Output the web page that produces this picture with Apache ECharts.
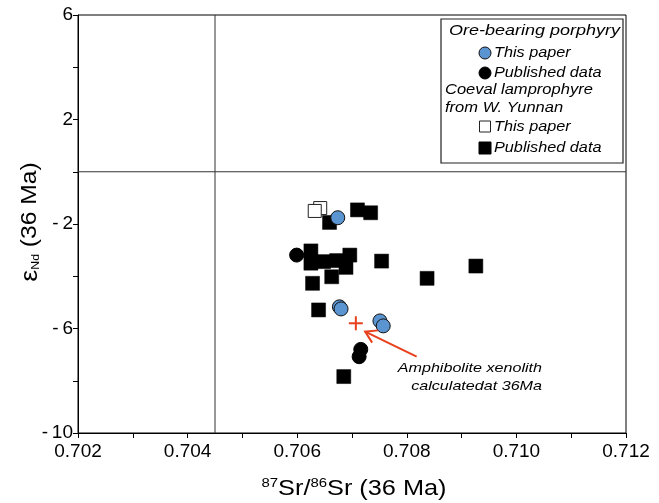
<!DOCTYPE html>
<html>
<head>
<meta charset="utf-8">
<script src="https://cdn.jsdelivr.net/npm/echarts@6/dist/echarts.min.js"></script>
<style>
html,body{margin:0;padding:0;background:#fff;}
#chart{width:659px;height:503px;}
</style>
</head>
<body>
<div id="chart"></div>
<script>
// ---- data (87Sr/86Sr, εNd) ----
var porphyryThisPaper = [[0.70674,-1.76],[0.70677,-5.17],[0.70680,-5.25],[0.70751,-5.71],[0.70757,-5.90]];
var porphyryPublished = [[0.70599,-3.19],[0.70716,-6.80],[0.70713,-7.08]];
var lamprophyreThisPaper = [[0.70642,-1.39],[0.70632,-1.50]];
var lamprophyrePublished = [[0.70659,-1.94],[0.70710,-1.46],[0.70734,-1.57],[0.70625,-3.03],[0.70625,-3.50],
  [0.70648,-3.44],[0.70672,-3.40],[0.70696,-3.19],[0.70689,-3.66],[0.70663,-4.02],[0.70628,-4.27],
  [0.70754,-3.42],[0.70837,-4.08],[0.70926,-3.61],[0.70639,-5.29],[0.70685,-7.84]];
var amphibolite = [[0.70707,-5.80]];
var arrowFromTo = [[0.70818,-7.08],[0.70724,-6.12]];
var refVertical = [[0.7045,-10],[0.7045,6]];
var refHorizontal = [[0.702,0],[0.712,0]];
var xTicks = {min:0.702, max:0.712, interval:0.002};
var yTicks = {min:-10, max:6, interval:4};

var FONT = 'Liberation Sans, Arial, sans-serif';
var RED = '#e8401c', BLUE = '#5b95d1';
var chart = echarts.init(document.getElementById('chart'));

function legendText(txt, x, y, size, sx){
  return {type:'text', x:x, y:y, scaleX:sx, z:12,
    style:{text:txt, font:'italic '+size+'px '+FONT, fill:'#000', verticalAlign:'middle'}};
}

var option = {
  animation:false,
  backgroundColor:'#fff',
  grid:{left:78, right:33, top:15, bottom:70, show:true, borderColor:'#000', borderWidth:1, backgroundColor:'transparent'},
  xAxis:{type:'value', min:xTicks.min, max:xTicks.max, interval:xTicks.interval,
    axisLine:{onZero:false, lineStyle:{color:'#000', width:1}},
    axisTick:{show:true, inside:false, length:5, lineStyle:{color:'#000'}},
    minorTick:{show:true, splitNumber:2, length:5, lineStyle:{color:'#000'}},
    splitLine:{show:false},
    axisLabel:{fontFamily:FONT, fontSize:19, color:'#000', margin:9,
      formatter:function(v){return v.toFixed(3);}}
  },
  yAxis:{type:'value', min:yTicks.min, max:yTicks.max, interval:yTicks.interval,
    axisLine:{onZero:false, lineStyle:{color:'#000', width:1}},
    axisTick:{show:true, inside:false, length:5, lineStyle:{color:'#000'}},
    minorTick:{show:true, splitNumber:2, length:5, lineStyle:{color:'#000'}},
    splitLine:{show:false},
    axisLabel:{fontFamily:FONT, fontSize:19, color:'#000', margin:5,
      formatter:function(v){return String(v).replace('-','-\u2009');}}
  },
  series:[
    {type:'line', data:refVertical, symbol:'none', silent:true, z:1, lineStyle:{color:'#333', width:1}},
    {type:'line', data:refHorizontal, symbol:'none', silent:true, z:1, lineStyle:{color:'#333', width:1}},
    {type:'scatter', data:porphyryPublished, symbol:'circle', symbolSize:14, z:2,
      itemStyle:{color:'#000', borderColor:'#000', borderWidth:1, opacity:1}},
    {type:'scatter', data:lamprophyreThisPaper, symbol:'rect', symbolSize:13, z:3,
      itemStyle:{color:'#fff', borderColor:'#222', borderWidth:1, opacity:1}},
    {type:'scatter', data:lamprophyrePublished, symbol:'rect', symbolSize:14, z:4,
      itemStyle:{color:'#000', borderColor:'#000', borderWidth:0.5, opacity:1}},
    {type:'scatter', data:porphyryThisPaper, symbol:'circle', symbolSize:14, z:5,
      itemStyle:{color:BLUE, borderColor:'#111', borderWidth:1, opacity:1}},
    {type:'custom', data:amphibolite, z:6, silent:true,
      renderItem:function(params, api){
        var p = api.coord([api.value(0), api.value(1)]);
        var h = 7;
        return {type:'group', children:[
          {type:'line', shape:{x1:p[0]-h, y1:p[1], x2:p[0]+h, y2:p[1]}, style:{stroke:RED, lineWidth:2}},
          {type:'line', shape:{x1:p[0], y1:p[1]-h, x2:p[0], y2:p[1]+h}, style:{stroke:RED, lineWidth:2}}
        ]};
      }},
    {type:'custom', data:[arrowFromTo[0].concat(arrowFromTo[1])], z:6, silent:true,
      renderItem:function(params, api){
        var a = api.coord([api.value(0), api.value(1)]);
        var b = api.coord([api.value(2), api.value(3)]);
        var ang = Math.atan2(a[1]-b[1], a[0]-b[0]);
        var L = 13, w = 0.55;
        var h1 = [b[0]+L*Math.cos(ang+w), b[1]+L*Math.sin(ang+w)];
        var h2 = [b[0]+L*Math.cos(ang-w), b[1]+L*Math.sin(ang-w)];
        return {type:'group', children:[
          {type:'line', shape:{x1:a[0], y1:a[1], x2:b[0], y2:b[1]}, style:{stroke:RED, lineWidth:2}},
          {type:'polyline', shape:{points:[h1,b,h2]}, style:{stroke:RED, lineWidth:2, fill:null}}
        ]};
      }}
  ],
  graphic:[
    // axis titles
    {type:'text', x:30, y:222, rotation:Math.PI/2, scaleX:1.12,
      style:{rich:{e:{fontSize:24, fontFamily:FONT}, s:{fontSize:11, fontFamily:FONT, padding:[12,0,0,0]}, t:{fontSize:22, fontFamily:FONT}},
        text:'{e|ε}{s|Nd}{t| (36 Ma)}', fill:'#000', align:'center', verticalAlign:'middle'}},
    {type:'text', x:354, y:489, scaleX:1.15,
      style:{rich:{p:{fontSize:13, fontFamily:FONT, padding:[0,0,12,0]}, t:{fontSize:22, fontFamily:FONT}},
        text:'{p|87}{t|Sr/}{p|86}{t|Sr (36 Ma)}', fill:'#000', align:'center', verticalAlign:'middle'}},
    // legend
    {type:'rect', shape:{x:441, y:19, width:182, height:144}, style:{fill:'#fff', stroke:'#222', lineWidth:1.2}, z:10},
    legendText('Ore-bearing porphyry', 449, 31, 15, 1.2),
    {type:'circle', z:12, shape:{cx:485, cy:53, r:6}, style:{fill:BLUE, stroke:'#111', lineWidth:1}},
    legendText('This paper', 494, 53, 14, 1.16),
    {type:'circle', z:12, shape:{cx:485, cy:73, r:6}, style:{fill:'#000', stroke:'#000'}},
    legendText('Published data', 494, 73, 14, 1.16),
    legendText('Coeval lamprophyre', 445, 90, 14, 1.18),
    legendText('from W. Yunnan', 445, 108, 14, 1.18),
    {type:'rect', z:12, shape:{x:479.5, y:121, width:11, height:11}, style:{fill:'#fff', stroke:'#222', lineWidth:1}},
    legendText('This paper', 494, 127, 14, 1.16),
    {type:'rect', z:12, shape:{x:479, y:142, width:12, height:12}, style:{fill:'#000', stroke:'#000'}},
    legendText('Published data', 494, 148, 14, 1.16),
    // annotation
    {type:'text', x:542, y:368, scaleX:1.24,
      style:{text:'Amphibolite xenolith', font:'italic 13px '+FONT, fill:'#000', align:'right', verticalAlign:'middle'}},
    {type:'text', x:542, y:386, scaleX:1.24,
      style:{text:'calculatedat 36Ma', font:'italic 13px '+FONT, fill:'#000', align:'right', verticalAlign:'middle'}}
  ]
};
chart.setOption(option);
</script>
</body>
</html>
